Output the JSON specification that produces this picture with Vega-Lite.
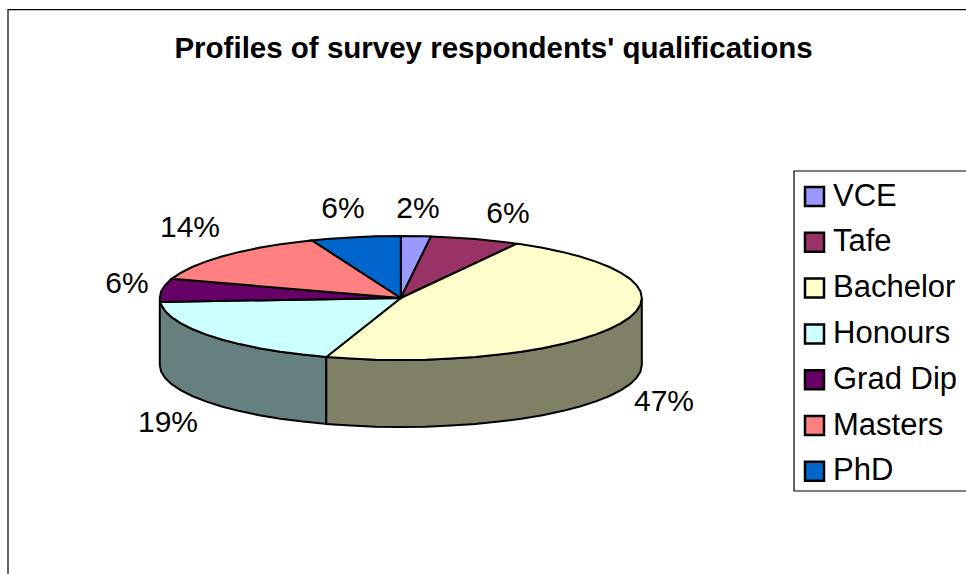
{
  "$schema": "https://vega.github.io/schema/vega-lite/v6.json",
  "width": 966,
  "height": 574,
  "autosize": {"type": "none"},
  "padding": 0,
  "background": "#ffffff",
  "view": {"stroke": null},
  "title": {
    "text": "Profiles of survey respondents' qualifications",
    "frame": "group",
    "anchor": "middle",
    "baseline": "alphabetic",
    "font": "Liberation Sans",
    "fontWeight": "bold",
    "fontSize": 29.5,
    "color": "#000000",
    "offset": 0,
    "dx": 10.5,
    "dy": 87
  },
  "projection": {"type": "identity", "reflectY": true, "scale": 1, "translate": [400.8, 298]},
  "datasets": {
    "slices": [
      {"type": "Feature", "properties": {"category": "VCE", "share": 0.02, "labelX": 17.2, "labelY": 89.5},
       "geometry": {"type": "Polygon", "coordinates": [[[0,0],[0,62],[25.2,61.7],[30.2,61.5],[0,0]]]}},
      {"type": "Feature", "properties": {"category": "Tafe", "share": 0.06, "labelX": 107.2, "labelY": 84.5},
       "geometry": {"type": "Polygon", "coordinates": [[[0,0],[30.2,61.5],[50.1,60.6],[74.5,59],[98,56.6],[116.1,54.3],[0,0]]]}},
      {"type": "Feature", "properties": {"category": "Bachelor", "share": 0.47, "labelX": 263.2, "labelY": -103.5},
       "geometry": {"type": "Polygon", "coordinates": [[[0,0],[116.1,54.3],[120.5,53.7],[141.7,50.2],[161.3,46.1],[179.1,41.5],[195,36.4],[208.7,31],[220.2,25.2],[229.2,19.2],[235.7,12.9],[239.7,6.5],[241,0],[239.7,-6.5],[235.7,-12.9],[229.2,-19.2],[220.2,-25.2],[208.7,-31],[195,-36.4],[179.1,-41.5],[161.3,-46.1],[141.7,-50.2],[120.5,-53.7],[98,-56.6],[74.5,-59],[50.1,-60.6],[25.2,-61.7],[0,-62],[-25.2,-61.7],[-50.1,-60.6],[-74.5,-59],[0,0]]]}},
      {"type": "Feature", "properties": {"category": "Honours", "share": 0.19, "labelX": -232.8, "labelY": -124.5},
       "geometry": {"type": "Polygon", "coordinates": [[[0,0],[-74.5,-59],[-98,-56.6],[-120.5,-53.7],[-141.7,-50.2],[-161.3,-46.1],[-179.1,-41.5],[-195,-36.4],[-208.7,-31],[-220.2,-25.2],[-229.2,-19.2],[-235.7,-12.9],[-239.7,-6.5],[-240.5,-3.9],[0,0]]]}},
      {"type": "Feature", "properties": {"category": "Grad Dip", "share": 0.06, "labelX": -273.8, "labelY": 14.5},
       "geometry": {"type": "Polygon", "coordinates": [[[0,0],[-240.5,-3.9],[-241,0],[-239.7,6.5],[-235.7,12.9],[-229.2,19.2],[0,0]]]}},
      {"type": "Feature", "properties": {"category": "Masters", "share": 0.14, "labelX": -210.8, "labelY": 70.5},
       "geometry": {"type": "Polygon", "coordinates": [[[0,0],[-229.2,19.2],[-220.2,25.2],[-208.7,31],[-195,36.4],[-179.1,41.5],[-161.3,46.1],[-141.7,50.2],[-120.5,53.7],[-98,56.6],[-88.7,57.6],[0,0]]]}},
      {"type": "Feature", "properties": {"category": "PhD", "share": 0.06, "labelX": -57.8, "labelY": 89.5},
       "geometry": {"type": "Polygon", "coordinates": [[[0,0],[-88.7,57.6],[-74.5,59],[-50.1,60.6],[-25.2,61.7],[0,62],[0,0]]]}}
    ],
    "outerFrame": [
      {"type": "Feature", "properties": {"part": "chart border"},
       "geometry": {"type": "LineString", "coordinates": [[-392.8,-280],[-392.8,288.3],[570,288.3]]}},
      {"type": "Feature", "properties": {"part": "legend border"},
       "geometry": {"type": "LineString", "coordinates": [[570,127],[393.2,127],[393.2,-193],[570,-193]]}}
    ],
    "bachelorSide": [
      {"type": "Feature", "properties": {"category": "Bachelor"},
       "geometry": {"type": "Polygon", "coordinates": [[[241,0],[239.7,-6.5],[235.7,-12.9],[229.2,-19.2],[220.2,-25.2],[208.7,-31],[195,-36.4],[179.1,-41.5],[161.3,-46.1],[141.7,-50.2],[120.5,-53.7],[98,-56.6],[74.5,-59],[50.1,-60.6],[25.2,-61.7],[0,-62],[-25.2,-61.7],[-50.1,-60.6],[-74.5,-59],[-74.5,-126],[-50.1,-127.6],[-25.2,-128.7],[0,-129],[25.2,-128.7],[50.1,-127.6],[74.5,-126],[98,-123.6],[120.5,-120.7],[141.7,-117.2],[161.3,-113.1],[179.1,-108.5],[195,-103.4],[208.7,-98],[220.2,-92.2],[229.2,-86.2],[235.7,-79.9],[239.7,-73.5],[241,-67],[241,0]]]}}
    ],
    "honoursSide": [
      {"type": "Feature", "properties": {"category": "Honours"},
       "geometry": {"type": "Polygon", "coordinates": [[[-74.5,-59],[-98,-56.6],[-120.5,-53.7],[-141.7,-50.2],[-161.3,-46.1],[-179.1,-41.5],[-195,-36.4],[-208.7,-31],[-220.2,-25.2],[-229.2,-19.2],[-235.7,-12.9],[-239.7,-6.5],[-241,0],[-241,-67],[-239.7,-73.5],[-235.7,-79.9],[-229.2,-86.2],[-220.2,-92.2],[-208.7,-98],[-195,-103.4],[-179.1,-108.5],[-161.3,-113.1],[-141.7,-117.2],[-120.5,-120.7],[-98,-123.6],[-74.5,-126],[-74.5,-59]]]}}
    ]
  },
  "layer": [
    {
      "data": {"name": "outerFrame"},
      "mark": {"type": "geoshape", "filled": false, "stroke": "#000000", "strokeWidth": 1.2},
      "encoding": {}
    },
    {
      "data": {"name": "honoursSide"},
      "mark": {"type": "geoshape", "fill": "#668080", "stroke": "#000000", "strokeWidth": 2},
      "encoding": {}
    },
    {
      "data": {"name": "bachelorSide"},
      "mark": {"type": "geoshape", "fill": "#808066", "stroke": "#000000", "strokeWidth": 2},
      "encoding": {}
    },
    {
      "data": {"name": "slices"},
      "mark": {"type": "geoshape", "stroke": "#000000", "strokeWidth": 2},
      "encoding": {
        "color": {
          "field": "properties.category",
          "type": "nominal",
          "sort": ["VCE", "Tafe", "Bachelor", "Honours", "Grad Dip", "Masters", "PhD"],
          "scale": {
            "domain": ["VCE", "Tafe", "Bachelor", "Honours", "Grad Dip", "Masters", "PhD"],
            "range": ["#9999FF", "#993366", "#FFFFCC", "#CCFFFF", "#660066", "#FF8080", "#0066CC"]
          },
          "legend": {
            "title": null,
            "orient": "none",
            "legendX": 794,
            "legendY": 173,
            "padding": 8,
            "symbolType": "square",
            "symbolSize": 361,
            "symbolStrokeColor": "#000000",
            "symbolStrokeWidth": 2.5,
            "symbolOffset": -3,
            "labelOffset": 3,
            "labelFont": "Liberation Sans",
            "labelFontSize": 31,
            "labelColor": "#000000",
            "labelLimit": 200,
            "rowPadding": 13.8
          }
        }
      }
    },
    {
      "data": {"name": "slices"},
      "mark": {"type": "text", "font": "Liberation Sans", "fontSize": 30, "color": "#000000", "align": "center", "baseline": "middle"},
      "encoding": {
        "longitude": {"field": "properties.labelX", "type": "quantitative"},
        "latitude": {"field": "properties.labelY", "type": "quantitative"},
        "text": {"field": "properties.share", "type": "quantitative", "format": ".0%"}
      }
    }
  ]
}
